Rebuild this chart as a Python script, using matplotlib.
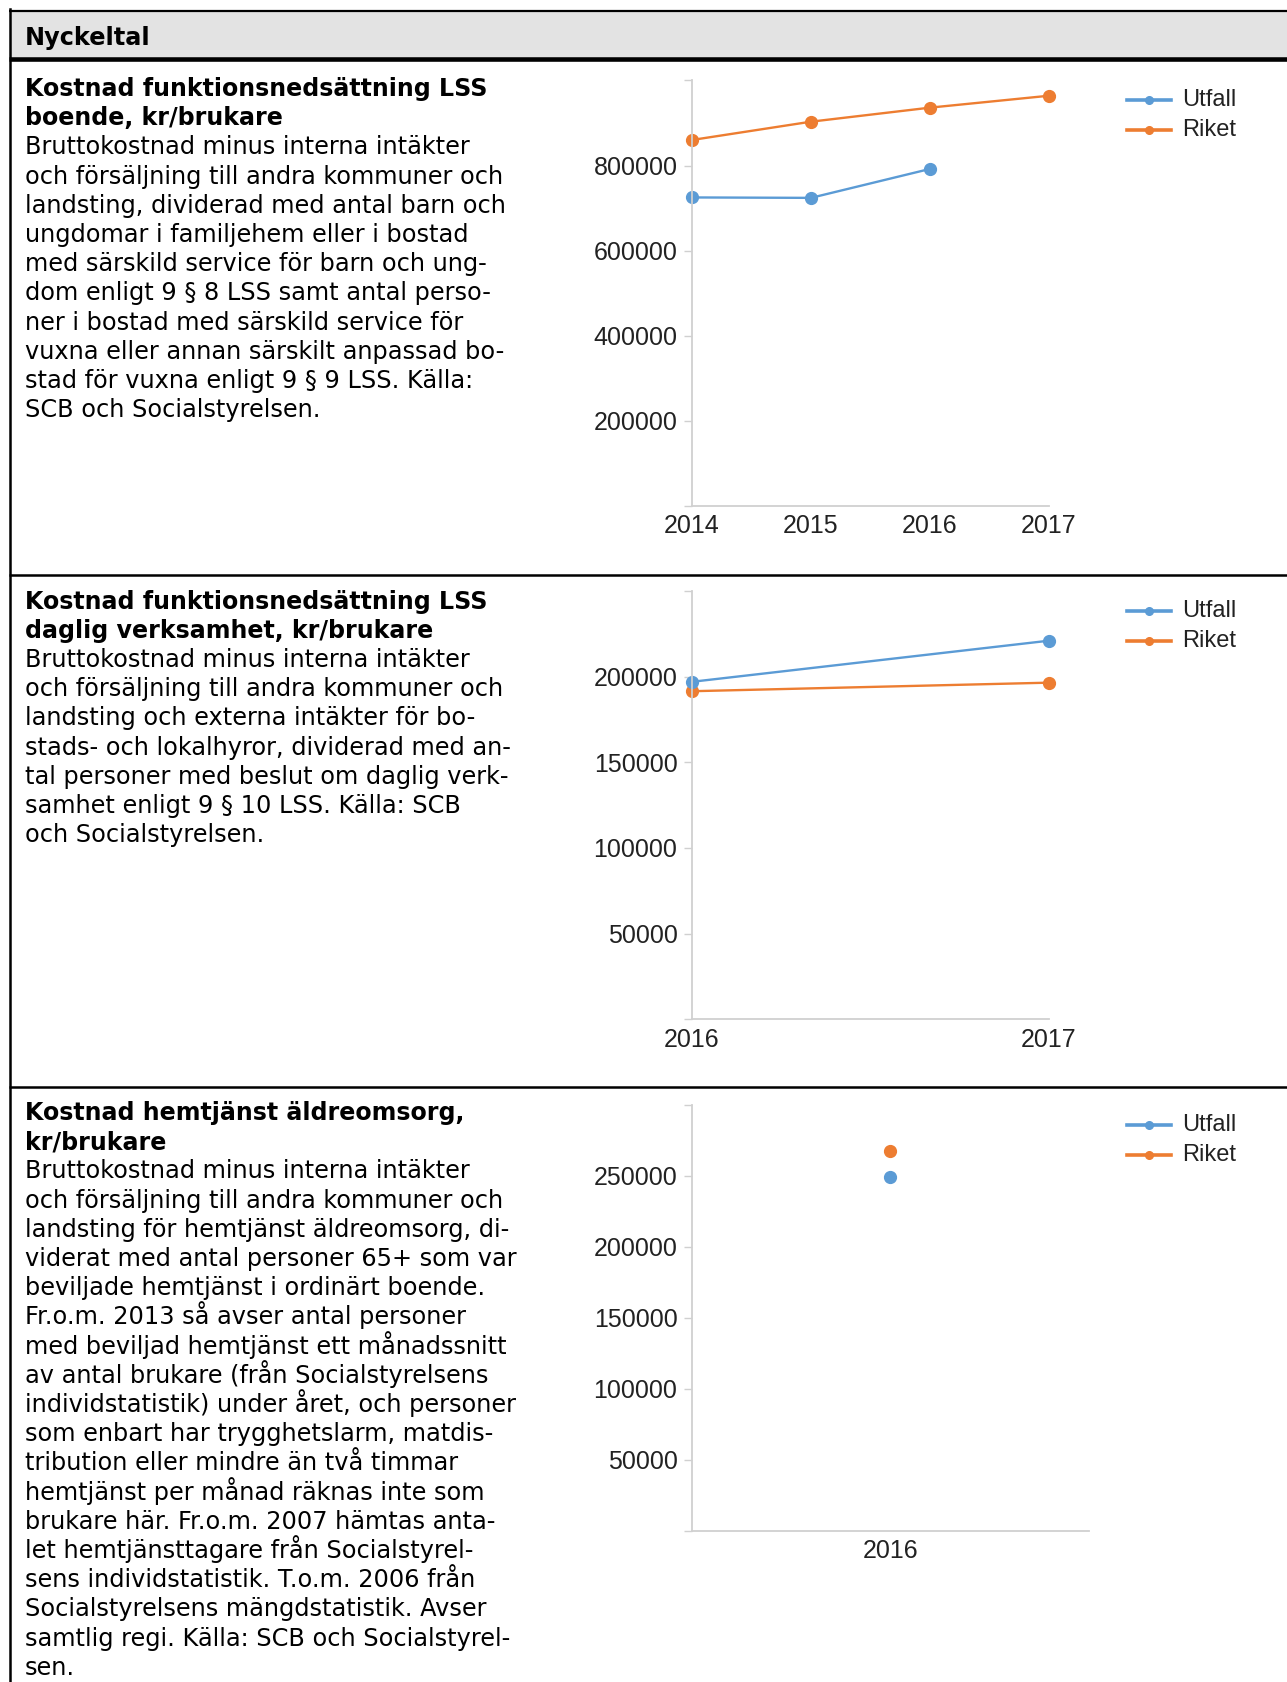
import numpy as np
import matplotlib
matplotlib.use("Agg")
import matplotlib.pyplot as plt
from matplotlib.lines import Line2D
from matplotlib.patches import Rectangle

W, H = 1287, 1682

BLUE = "#5b9bd5"
ORANGE = "#ed7d31"
AXIS_GREY = "#d0d0d0"

# --- data -------------------------------------------------------------
years_boende = [2014, 2015, 2016, 2017]
utfall_boende = [725000, 724000, 792000, np.nan]
riket_boende = [860000, 903000, 936000, 964000]

years_daglig = [2016, 2017]
utfall_daglig = [197000, 221000]
riket_daglig = [191500, 196500]

years_hemtjanst = [2016]
utfall_hemtjanst = [249000]
riket_hemtjanst = [267500]

series_labels = ["Utfall", "Riket"]

header_text = "Nyckeltal"

titles = [
    ["Kostnad funktionsnedsättning LSS", "boende, kr/brukare"],
    ["Kostnad funktionsnedsättning LSS", "daglig verksamhet, kr/brukare"],
    ["Kostnad hemtjänst äldreomsorg,", "kr/brukare"],
]

bodies = [
    [
        "Bruttokostnad minus interna intäkter",
        "och försäljning till andra kommuner och",
        "landsting, dividerad med antal barn och",
        "ungdomar i familjehem eller i bostad",
        "med särskild service för barn och ung-",
        "dom enligt 9 § 8 LSS samt antal perso-",
        "ner i bostad med särskild service för",
        "vuxna eller annan särskilt anpassad bo-",
        "stad för vuxna enligt 9 § 9 LSS. Källa:",
        "SCB och Socialstyrelsen.",
    ],
    [
        "Bruttokostnad minus interna intäkter",
        "och försäljning till andra kommuner och",
        "landsting och externa intäkter för bo-",
        "stads- och lokalhyror, dividerad med an-",
        "tal personer med beslut om daglig verk-",
        "samhet enligt 9 § 10 LSS. Källa: SCB",
        "och Socialstyrelsen.",
    ],
    [
        "Bruttokostnad minus interna intäkter",
        "och försäljning till andra kommuner och",
        "landsting för hemtjänst äldreomsorg, di-",
        "viderat med antal personer 65+ som var",
        "beviljade hemtjänst i ordinärt boende.",
        "Fr.o.m. 2013 så avser antal personer",
        "med beviljad hemtjänst ett månadssnitt",
        "av antal brukare (från Socialstyrelsens",
        "individstatistik) under året, och personer",
        "som enbart har trygghetslarm, matdis-",
        "tribution eller mindre än två timmar",
        "hemtjänst per månad räknas inte som",
        "brukare här. Fr.o.m. 2007 hämtas anta-",
        "let hemtjänsttagare från Socialstyrel-",
        "sens individstatistik. T.o.m. 2006 från",
        "Socialstyrelsens mängdstatistik. Avser",
        "samtlig regi. Källa: SCB och Socialstyrel-",
        "sen.",
    ],
]


def fx(px):
    return px / W


def fy(py):
    return 1 - py / H


def hline(fig, y, x0, x1, lw, color="black"):
    fig.add_artist(Line2D([fx(x0), fx(x1)], [fy(y), fy(y)], color=color, lw=lw,
                          solid_capstyle="butt"))


def make_axes(fig, left, right, top, bottom):
    ax = fig.add_axes([fx(left), fy(bottom), (right - left) / W, (bottom - top) / H])
    for side in ("top", "right"):
        ax.spines[side].set_visible(False)
    for side in ("left", "bottom"):
        ax.spines[side].set_color(AXIS_GREY)
        ax.spines[side].set_linewidth(1.3)
    ax.tick_params(axis="y", length=5.5, width=1.0, color=AXIS_GREY, pad=5,
                   labelsize=18, labelcolor="#222222")
    ax.tick_params(axis="x", length=0, pad=6, labelsize=18, labelcolor="#222222")
    return ax


def y_ticks(ax, top, step):
    ticks = np.arange(0, top + step, step)
    ax.set_ylim(0, top)
    ax.set_yticks(ticks)
    ax.set_yticklabels([""] + [f"{int(t)}" for t in ticks[1:-1]] + [""],
                       family="Liberation Sans")


def x_ticks(ax, years):
    ax.set_xticks(years)
    ax.set_xticklabels([str(y) for y in years], family="Liberation Sans")


def plot_series(ax, x, utfall, riket):
    for vals, color in ((riket, ORANGE), (utfall, BLUE)):
        ax.plot(x, vals, color=color, lw=1.7, marker="o", ms=8.5, clip_on=False)


def legend(fig, top):
    for i, (label, color) in enumerate(zip(series_labels, [BLUE, ORANGE])):
        y = top + 20 + i * 30
        fig.add_artist(Line2D([fx(1127), fx(1149), fx(1171)], [fy(y)] * 3,
                              color=color, lw=2.6, marker="o", ms=5.5, markevery=[1]))
        fig.text(fx(1182), fy(y), label, va="center", ha="left", fontsize=17,
                 family="Liberation Sans", color="#222222")


def text_block(fig, y0, title_lines, body_lines):
    # y0 is the visual middle of the first line; text is set on its baseline
    step = 29.2
    y = y0 + 9
    for line in title_lines:
        fig.text(fx(25), fy(y), line, fontsize=17.1, fontweight="bold",
                 family="DejaVu Sans", va="baseline", ha="left")
        y += step
    for line in body_lines:
        fig.text(fx(25), fy(y), line, fontsize=17.3, family="DejaVu Sans",
                 va="baseline", ha="left")
        y += step


fig = plt.figure(figsize=(W / 100, H / 100), dpi=100)

# table frame and header band
fig.add_artist(Rectangle((fx(10), fy(57)), 1 - fx(10), (57 - 11) / H,
                         facecolor="#e3e3e3", edgecolor="none"))
hline(fig, 10.5, 9, W, 1.6)
hline(fig, 59, 9, W, 3.3)
hline(fig, 574.5, 9, W, 1.8)
hline(fig, 1086.5, 9, W, 1.8)
fig.add_artist(Line2D([fx(10), fx(10)], [fy(9), 0], color="black", lw=1.8))
fig.text(fx(25), fy(35.5 + 9), header_text, fontsize=17.3, fontweight="bold",
         family="DejaVu Sans", va="baseline", ha="left")

# panel 1
text_block(fig, 87, titles[0], bodies[0])
ax1 = make_axes(fig, 692, 1049, 80.4, 506)
plot_series(ax1, years_boende, utfall_boende, riket_boende)
ax1.set_xlim(years_boende[0], years_boende[-1])
x_ticks(ax1, years_boende)
y_ticks(ax1, 1000000, 200000)
legend(fig, 80.4)

# panel 2
text_block(fig, 599.5, titles[1], bodies[1])
ax2 = make_axes(fig, 692, 1049, 591, 1019.3)
plot_series(ax2, years_daglig, utfall_daglig, riket_daglig)
ax2.set_xlim(years_daglig[0], years_daglig[-1])
x_ticks(ax2, years_daglig)
y_ticks(ax2, 250000, 50000)
legend(fig, 591)

# panel 3
text_block(fig, 1111, titles[2], bodies[2])
ax3 = make_axes(fig, 692, 1088.6, 1104.7, 1530.5)
plot_series(ax3, years_hemtjanst, utfall_hemtjanst, riket_hemtjanst)
ax3.set_xlim(years_hemtjanst[0] - 0.5, years_hemtjanst[0] + 0.5)
x_ticks(ax3, years_hemtjanst)
y_ticks(ax3, 300000, 50000)
legend(fig, 1104.7)

fig.savefig("out.png", dpi=100)
